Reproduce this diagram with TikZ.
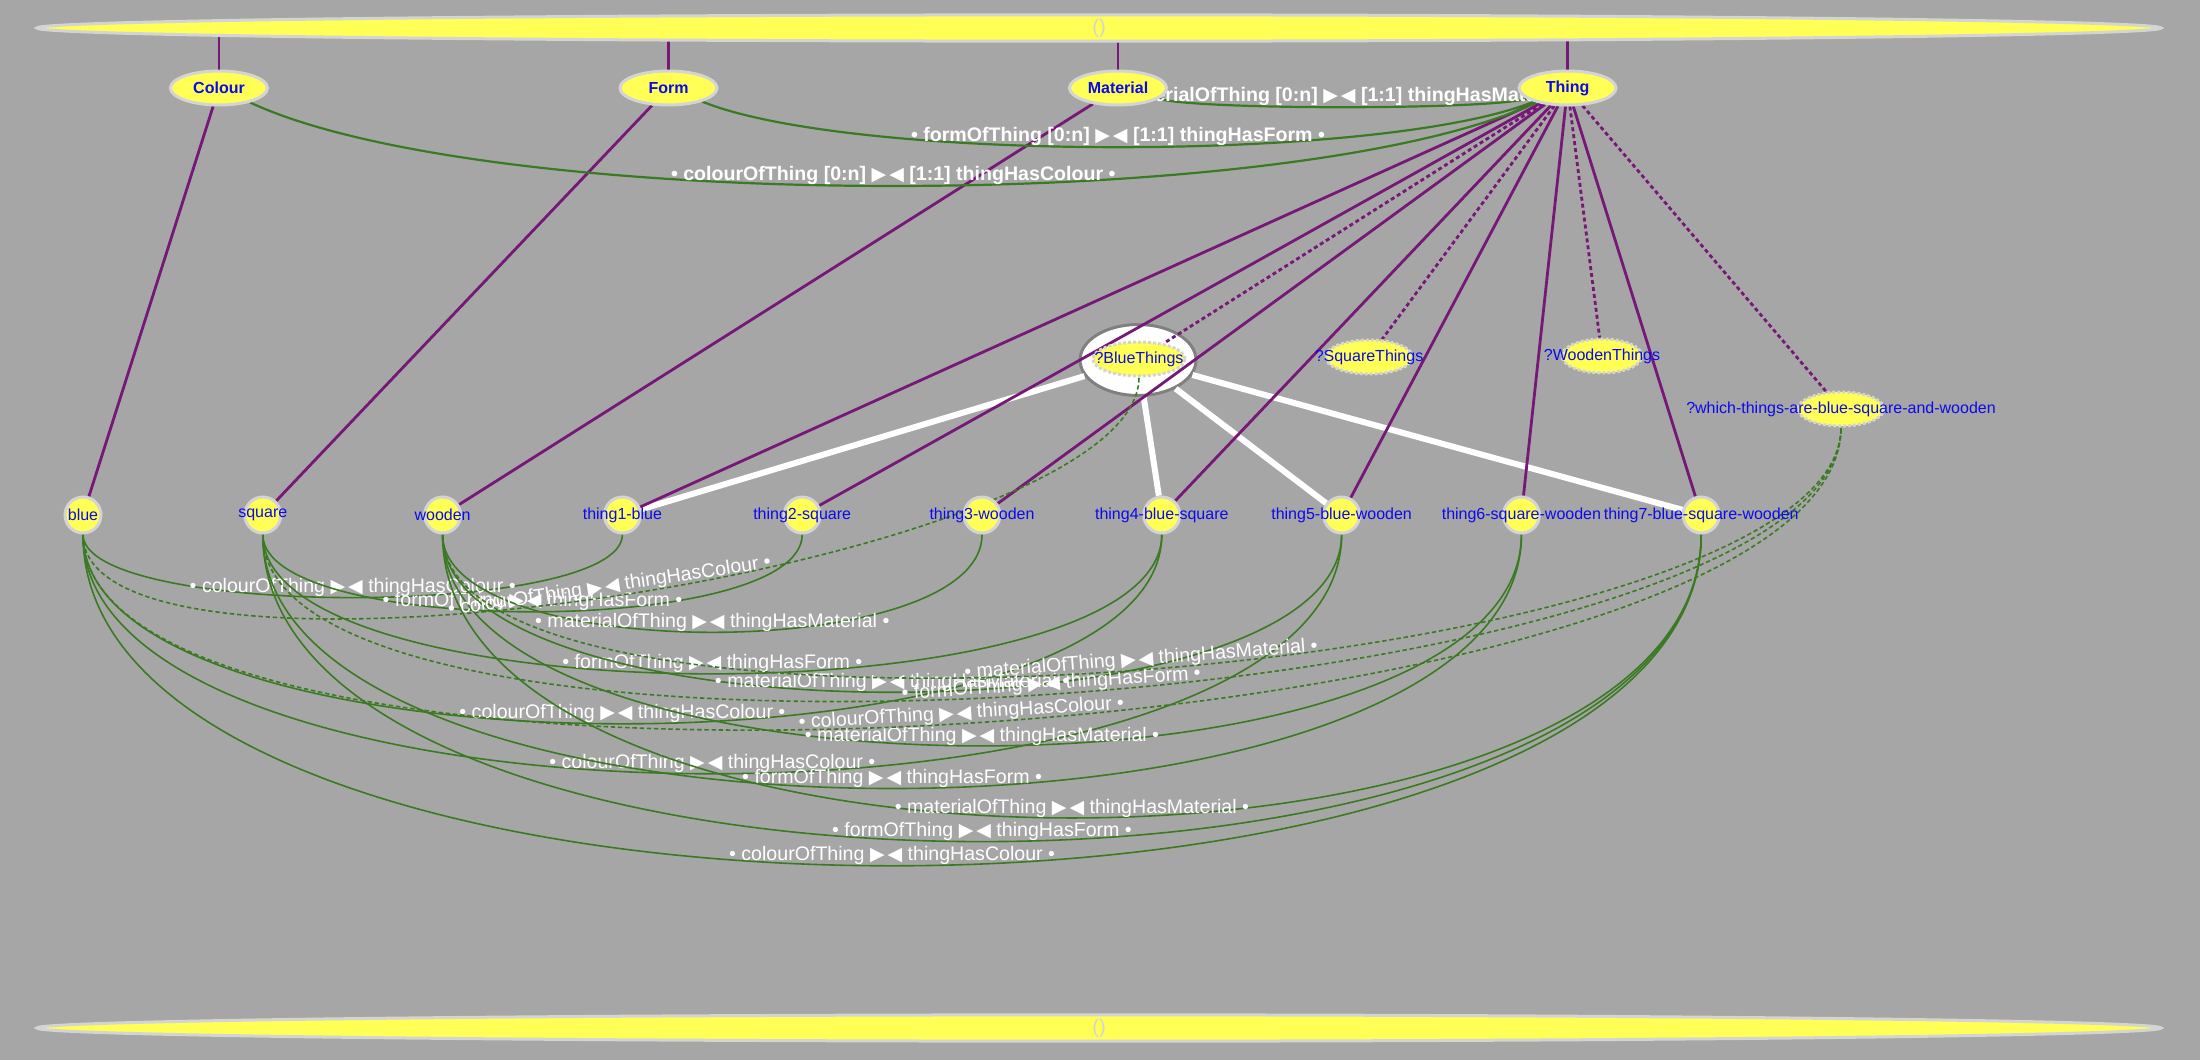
\documentclass[tikz,border=0pt]{standalone}
\usepackage{fontspec}
\setmainfont{Liberation Sans}
\newfontfamily\trianglefont{DejaVu Sans}
\usetikzlibrary{shapes.geometric,backgrounds,positioning}

\definecolor{canvasgrey}{RGB}{166,166,166}
\definecolor{nodeyellow}{RGB}{255,255,85}
\definecolor{ringgrey}{RGB}{212,212,212}
\definecolor{nodeblue}{RGB}{10,10,235}
\definecolor{linkpurple}{RGB}{118,24,118}
\definecolor{linkgreen}{RGB}{58,122,34}

% the two triangles between the two names of a property
\newcommand{\propjoin}{{\trianglefont\fontsize{9.5}{9.5}\selectfont ▶\kern1.5pt◀}}

\begin{document}
\begin{tikzpicture}
[x=0.5pt, y=0.5pt, node distance=89.9pt,
% STYLES
% The resultrow style is used to draw the two empty rows at top and bottom
resultrow/.style={ellipse, draw=ringgrey, line width=1.5pt, fill=nodeyellow, minimum width=1062pt, minimum height=8.5pt, inner sep=0pt, text=ringgrey, font=\fontsize{10}{10}\selectfont},
% The classnode style is used to draw the classes
classnode/.style={ellipse, draw=ringgrey, line width=1.5pt, fill=nodeyellow, minimum width=48.5pt, minimum height=17pt, inner sep=0pt, text=nodeblue, font=\bfseries\fontsize{8}{9}\selectfont, node distance=224.75pt},
% The itemnode style is used to draw the individuals, their names run over the ellipse
itemnode/.style={ellipse, draw=ringgrey, line width=1.5pt, fill=nodeyellow, minimum width=18pt, minimum height=18pt, inner sep=0pt, text=nodeblue, font=\fontsize{8}{9}\selectfont, execute at begin node=\hbox to 0pt\bgroup\hss, execute at end node=\hss\egroup},
% The querynode style is used to draw the queries
querynode/.style={itemnode, dash pattern=on 1.5pt off 1pt, minimum height=17pt},
% The selection style is used to circle the selected query
selection/.style={ellipse, draw=gray, line width=1.5pt, fill=white, minimum width=58pt, minimum height=35.5pt},
% The link styles are used to draw the links between nodes
rowlink/.style={draw=linkpurple, line width=1.1pt},
typelink/.style={draw=linkpurple, line width=1.4pt},
querylink/.style={typelink, dash pattern=on 2pt off 1.5pt},
resultlink/.style={draw=white, line width=3pt},
classlink/.style={draw=linkgreen, line width=1.1pt},
proplink/.style={draw=linkgreen, line width=0.8pt},
askedlink/.style={proplink, dash pattern=on 2.2pt off 1.4pt},
sweep/.style={out=-90, in=-90, looseness=#1},
% The label styles are used to write the property names
proplabel/.style={midway, sloped, above, inner sep=0pt, text=white, font=\fontsize{9.8}{11}\selectfont},
classlabel/.style={proplabel, font=\bfseries\fontsize{9.8}{11}\selectfont}]

\useasboundingbox (0,0) rectangle (2200,-1060);

% Draw the result rows
\node[resultrow] (toprow) at (1099,-28) {()};
\node[resultrow] (bottomrow) at (1099,-1028) {()};

% Draw the classes
\node[classnode] (colour) at (219,-88) {Colour};
\node[classnode, right of=colour] (form) {Form};
\node[classnode, right of=form] (material) {Material};
\node[classnode, right of=material] (thing) {Thing};

% Draw the individuals
\node[itemnode] (blue) at (83,-515) {blue};
\node[itemnode, right of=blue] (square) {square};
\node[itemnode, right of=square] (wooden) {wooden};
\node[itemnode, right of=wooden] (thing1) {thing1-blue};
\node[itemnode, right of=thing1] (thing2) {thing2-square};
\node[itemnode, right of=thing2] (thing3) {thing3-wooden};
\node[itemnode, right of=thing3] (thing4) {thing4-blue-square};
\node[itemnode, right of=thing4] (thing5) {thing5-blue-wooden};
\node[itemnode, right of=thing5] (thing6) {thing6-square-wooden};
\node[itemnode, right of=thing6] (thing7) {thing7-blue-square-wooden};

% Draw the queries
\node[querynode, minimum width=46pt] (bluethings) at (1139,-359) {?BlueThings};
\node[querynode, minimum width=43.5pt] (squarethings) at (1369,-357) {?SquareThings};
\node[querynode, minimum width=40pt] (woodenthings) at (1602,-356) {?WoodenThings};
\node[querynode, minimum width=43pt] (whichthings) at (1841,-409) {?which-things-are-blue-square-and-wooden};

\begin{scope}[on background layer]
\fill[canvasgrey] (0,0) rectangle (2200,-1060);
% SELECTED QUERY
\node[selection] (blueselection) at (1138,-360) {};

% Draw the results of the selected query
\path[resultlink]
    (blueselection) edge (thing1)
    (blueselection) edge (thing4)
    (blueselection) edge (thing5)
    (blueselection) edge (thing7);

% Draw the links to the top row
\path[rowlink]
    (colour) edge (colour |- toprow)
    (form) edge (form |- toprow)
    (material) edge (material |- toprow)
    (thing) edge (thing |- toprow);

% Draw the type links
\path[typelink]
    (colour) edge (blue)
    (form) edge (square)
    (material) edge (wooden)
    (thing) edge (thing1)
    (thing) edge (thing2)
    (thing) edge (thing3)
    (thing) edge (thing4)
    (thing) edge (thing5)
    (thing) edge (thing6)
    (thing) edge (thing7);
\path[querylink]
    (thing) edge (bluethings)
    (thing) edge (squarethings)
    (thing) edge (woodenthings)
    (thing) edge (whichthings);

% Draw the properties between the classes
\path[classlink]
    (colour) edge[out=-25, in=-155, looseness=0.525] node[classlabel] {• colourOfThing [0:n] \propjoin{} [1:1] thingHasColour •} (thing)
    (form) edge[out=-22, in=-158, looseness=0.5] node[classlabel] {• formOfThing [0:n] \propjoin{} [1:1] thingHasForm •} (thing)
    (material) edge[out=-15, in=-165, looseness=0.3] node[classlabel] {• materialOfThing [0:n] \propjoin{} [1:1] thingHasMaterial •} (thing);

% Draw the properties of the individuals
\path[proplink]
    (blue) edge[sweep=0.40] node[proplabel] {• colourOfThing \propjoin{} thingHasColour •} (thing1)
    (blue) edge[sweep=0.60] node[proplabel] {• colourOfThing \propjoin{} thingHasColour •} (thing4)
    (blue) edge[sweep=0.65] node[proplabel] {• colourOfThing \propjoin{} thingHasColour •} (thing5)
    (blue) edge[sweep=0.70] node[proplabel] {• colourOfThing \propjoin{} thingHasColour •} (thing7)
    (square) edge[sweep=0.49] node[proplabel] {• formOfThing \propjoin{} thingHasForm •} (thing2)
    (square) edge[sweep=0.53] node[proplabel] {• formOfThing \propjoin{} thingHasForm •} (thing4)
    (square) edge[sweep=0.69] node[proplabel] {• formOfThing \propjoin{} thingHasForm •} (thing6)
    (square) edge[sweep=0.73] node[proplabel] {• formOfThing \propjoin{} thingHasForm •} (thing7)
    (wooden) edge[sweep=0.62] node[proplabel] {• materialOfThing \propjoin{} thingHasMaterial •} (thing3)
    (wooden) edge[sweep=0.60] node[proplabel] {• materialOfThing \propjoin{} thingHasMaterial •} (thing5)
    (wooden) edge[sweep=0.67] node[proplabel] {• materialOfThing \propjoin{} thingHasMaterial •} (thing6)
    (wooden) edge[sweep=0.77] node[proplabel] {• materialOfThing \propjoin{} thingHasMaterial •} (thing7);

% Draw the properties asked by the queries
\path[askedlink]
    (blue) edge[sweep=0.45] node[proplabel] {• colourOfThing \propjoin{} thingHasColour •} (bluethings)
    (blue) edge[sweep=0.47] node[proplabel] {• colourOfThing \propjoin{} thingHasColour •} (whichthings)
    (square) edge[sweep=0.46] node[proplabel] {• formOfThing \propjoin{} thingHasForm •} (whichthings)
    (wooden) edge[sweep=0.46] node[proplabel] {• materialOfThing \propjoin{} thingHasMaterial •} (whichthings);
\end{scope}

\end{tikzpicture}
\end{document}
